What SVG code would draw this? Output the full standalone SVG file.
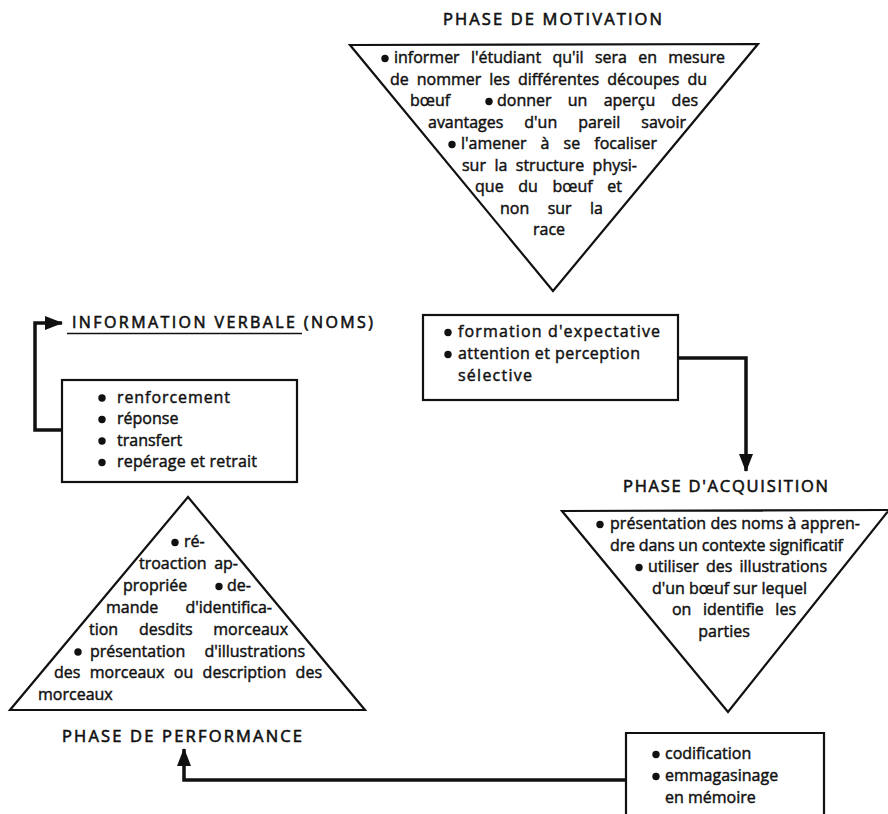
<svg xmlns="http://www.w3.org/2000/svg" width="888" height="814" viewBox="0 0 888 814">
<style>
  .t{font-family:"Open Sans","Liberation Sans",sans-serif;font-size:16px;fill:#111;stroke:#111;stroke-width:0.45}
  .h{font-family:"Open Sans","Liberation Sans",sans-serif;font-size:16.5px;fill:#111;stroke:#111;stroke-width:0.6}
  .s{fill:#fff;stroke:#111;stroke-width:2.2;stroke-linejoin:miter}
  .b{fill:#111}
  .c{fill:none;stroke:#111;stroke-width:3.5;stroke-linejoin:miter}
</style>
<defs>
  <marker id="ah" markerUnits="userSpaceOnUse" markerWidth="18" markerHeight="14" refX="17" refY="7" orient="auto">
    <path d="M0,0 L18,7 L0,14 z" fill="#111"/>
  </marker>
</defs>
<rect width="888" height="814" fill="#fff"/>

<g id="connectors">
  <path class="c" d="M62,430 H35 V323 H62" marker-end="url(#ah)"/>
  <path class="c" d="M678,358 H746 V471" marker-end="url(#ah)"/>
  <path class="c" d="M626,780 H184 V749" marker-end="url(#ah)"/>
</g>

<g id="phase-motivation">
  <text class="h" x="443" y="25" textLength="219" lengthAdjust="spacing">PHASE DE MOTIVATION</text>
  <polygon class="s" points="350,45 758,44 553,291"/>
  <circle class="b" cx="385" cy="58.5" r="3.7"/>
  <text class="t" x="394" y="63" word-spacing="7.2" textLength="331" lengthAdjust="spacing">informer l'étudiant qu'il sera en mesure</text>
  <text class="t" x="390" y="84.5" word-spacing="3.8" textLength="317" lengthAdjust="spacing">de nommer les différentes découpes du</text>
  <text class="t" x="410" y="106">bœuf</text>
  <circle class="b" cx="489" cy="101.5" r="3.7"/>
  <text class="t" x="497" y="106" word-spacing="12.1" textLength="201" lengthAdjust="spacing">donner un aperçu des</text>
  <text class="t" x="428" y="127.5" word-spacing="16.8" textLength="258" lengthAdjust="spacing">avantages d'un pareil savoir</text>
  <circle class="b" cx="452" cy="144.5" r="3.7"/>
  <text class="t" x="461" y="149" word-spacing="10" textLength="196" lengthAdjust="spacing">l'amener à se focaliser</text>
  <text class="t" x="462" y="170.5" word-spacing="4.3" textLength="175" lengthAdjust="spacing">sur la structure physi-</text>
  <text class="t" x="475" y="192" word-spacing="10.3" textLength="147" lengthAdjust="spacing">que du bœuf et</text>
  <text class="t" x="500" y="213.5" word-spacing="14.3" textLength="103" lengthAdjust="spacing">non sur la</text>
  <text class="t" x="549" y="235" text-anchor="middle">race</text>
</g>

<g id="info-verbale">
  <text class="h" x="72" y="328" textLength="301" lengthAdjust="spacing" style="font-size:16px">INFORMATION VERBALE (NOMS)</text>
  <line x1="67" y1="333.5" x2="302" y2="333.5" stroke="#111" stroke-width="1.6"/>
</g>

<g id="box-expectative">
  <rect class="s" x="423" y="315" width="255" height="85"/>
  <circle class="b" cx="448" cy="332.5" r="3.7"/>
  <text class="t" x="458" y="337" textLength="202" lengthAdjust="spacing">formation d'expectative</text>
  <circle class="b" cx="448" cy="354.5" r="3.7"/>
  <text class="t" x="458" y="359" textLength="182" lengthAdjust="spacing">attention et perception</text>
  <text class="t" x="458" y="381" textLength="74" lengthAdjust="spacing">sélective</text>
</g>

<g id="box-renforcement">
  <rect class="s" x="62" y="380" width="235" height="102"/>
  <circle class="b" cx="102" cy="398" r="3.7"/>
  <text class="t" x="117" y="402.5" textLength="113" lengthAdjust="spacing">renforcement</text>
  <circle class="b" cx="102" cy="419.5" r="3.7"/>
  <text class="t" x="117" y="424">réponse</text>
  <circle class="b" cx="102" cy="441" r="3.7"/>
  <text class="t" x="117" y="445.5">transfert</text>
  <circle class="b" cx="102" cy="462.5" r="3.7"/>
  <text class="t" x="117" y="467" textLength="140" lengthAdjust="spacing">repérage et retrait</text>
</g>

<g id="phase-acquisition">
  <text class="h" x="623" y="492" textLength="205" lengthAdjust="spacing">PHASE D'ACQUISITION</text>
  <polygon class="s" points="562,511 889,510 728,712"/>
  <circle class="b" cx="600" cy="524.5" r="3.7"/>
  <text class="t" x="610" y="529" textLength="250" lengthAdjust="spacing">présentation des noms à appren-</text>
  <text class="t" x="610" y="550.5" textLength="233" lengthAdjust="spacing">dre dans un contexte significatif</text>
  <circle class="b" cx="639" cy="567.5" r="3.7"/>
  <text class="t" x="648" y="572" word-spacing="3" textLength="179" lengthAdjust="spacing">utiliser des illustrations</text>
  <text class="t" x="652" y="593.5" textLength="155" lengthAdjust="spacing">d'un bœuf sur lequel</text>
  <text class="t" x="672" y="615" word-spacing="7.4" textLength="124" lengthAdjust="spacing">on identifie les</text>
  <text class="t" x="724" y="636.5" text-anchor="middle">parties</text>
</g>

<g id="box-codification">
  <path class="s" d="M626,820 V733 H824 V820"/>
  <circle class="b" cx="656" cy="754.5" r="3.7"/>
  <text class="t" x="665" y="759">codification</text>
  <circle class="b" cx="656" cy="776.5" r="3.7"/>
  <text class="t" x="665" y="781">emmagasinage</text>
  <text class="t" x="665" y="803">en mémoire</text>
</g>

<g id="phase-performance">
  <polygon class="s" points="188,497 365,710 10,710"/>
  <circle class="b" cx="175" cy="542.5" r="3.7"/>
  <text class="t" x="184" y="547">ré-</text>
  <text class="t" x="139" y="569" word-spacing="3.4" textLength="99" lengthAdjust="spacing">troaction ap-</text>
  <text class="t" x="123" y="591">propriée</text>
  <circle class="b" cx="219" cy="586.5" r="3.7"/>
  <text class="t" x="227" y="591">de-</text>
  <text class="t" x="106" y="613" word-spacing="23.2" textLength="166" lengthAdjust="spacing">mande d'identifica-</text>
  <text class="t" x="89" y="635" word-spacing="16.6" textLength="199" lengthAdjust="spacing">tion desdits morceaux</text>
  <circle class="b" cx="78" cy="652" r="3.7"/>
  <text class="t" x="90" y="656.5" word-spacing="15.1" textLength="215" lengthAdjust="spacing">présentation d'illustrations</text>
  <text class="t" x="54" y="678" word-spacing="5.2" textLength="268" lengthAdjust="spacing">des morceaux ou description des</text>
  <text class="t" x="38" y="700">morceaux</text>
  <text class="h" x="62" y="742" textLength="240" lengthAdjust="spacing">PHASE DE PERFORMANCE</text>
</g>
</svg>
